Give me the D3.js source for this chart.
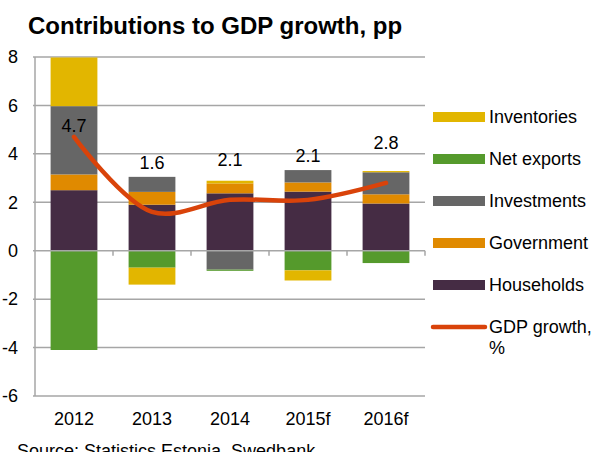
<!DOCTYPE html>
<html>
<head>
<meta charset="utf-8">
<script src="https://cdn.jsdelivr.net/npm/d3@7"></script>
<style>
  body { margin: 0; background: #fff; }
  text { font-family: "Liberation Sans", Arial, sans-serif; fill: #000; }
</style>
</head>
<body>
<svg id="chart" width="598" height="452"></svg>
<script>
// categories and series (pp contributions)
var years = ["2012", "2013", "2014", "2015f", "2016f"];
var households  = [2.50, 1.90, 2.37, 2.44, 1.95];
var government  = [0.65, 0.53, 0.41, 0.38, 0.38];
var investments = [2.82, 0.62, -0.78, 0.51, 0.91];
var netExports  = [-4.10, -0.70, -0.05, -0.81, -0.51];
var inventories = [2.01, -0.70, 0.11, -0.42, 0.05];
var gdpGrowth   = [4.7, 1.6, 2.1, 2.1, 2.8];
var gdpLabels   = ["4.7", "1.6", "2.1", "2.1", "2.8"];
// where the value labels sit, in axis units
var labelAt     = [5.17, 3.65, 3.76, 3.93, 4.46];
var yTicks      = [-6, -4, -2, 0, 2, 4, 6, 8];

var seriesNames  = ["Households", "Government", "Investments", "Net exports", "Inventories"];
var seriesValues = [households, government, investments, netExports, inventories];
var colors = {
  "Households": "#452C44",
  "Government": "#E08A00",
  "Investments": "#666666",
  "Net exports": "#559A2C",
  "Inventories": "#E2B600"
};
var legendOrder = ["Inventories", "Net exports", "Investments", "Government", "Households"];
var lineColor = "#D9430A";
var gridColor = "#A6A6A6";

var svg = d3.select("#chart");

var plot = {left: 35, right: 425, top: 57, bottom: 396};

var x = d3.scaleBand()
    .domain(years)
    .range([plot.left, plot.right])
    .paddingInner(0.4)
    .paddingOuter(0.2);

var y = d3.scaleLinear()
    .domain([-6, 8])
    .range([plot.bottom, plot.top]);

// build rows for the stack
var rows = years.map(function(yr, i) {
  var r = {year: yr};
  seriesNames.forEach(function(n, k) { r[n] = seriesValues[k][i]; });
  return r;
});

var stacked = d3.stack()
    .keys(seriesNames)
    .offset(d3.stackOffsetDiverging)(rows);

// title
svg.append("text")
    .attr("x", 28)
    .attr("y", 34)
    .attr("font-size", 24)
    .attr("font-weight", "bold")
    .text("Contributions to GDP growth, pp");

// gridlines
svg.append("g").selectAll("line")
  .data(yTicks.filter(function(t) { return t !== 0 && t !== -6; }))
  .enter().append("line")
    .attr("x1", plot.left - 2)
    .attr("x2", plot.right)
    .attr("y1", function(d) { return y(d); })
    .attr("y2", function(d) { return y(d); })
    .attr("stroke", gridColor)
    .attr("stroke-width", 1.5);

// bars
svg.append("g").selectAll("g")
  .data(stacked)
  .enter().append("g")
    .attr("fill", function(s) { return colors[s.key]; })
  .selectAll("rect")
  .data(function(s) { return s; })
  .enter().append("rect")
    .attr("x", function(d) { return x(d.data.year); })
    .attr("width", x.bandwidth())
    .attr("y", function(d) { return y(Math.max(d[0], d[1])); })
    .attr("height", function(d) { return Math.abs(y(d[0]) - y(d[1])); });

// axes lines
var axisG = svg.append("g").attr("stroke", gridColor).attr("stroke-width", 1.5);
axisG.append("line")
    .attr("x1", plot.left).attr("x2", plot.left)
    .attr("y1", plot.top).attr("y2", plot.bottom);
axisG.append("line")
    .attr("x1", plot.left - 2).attr("x2", plot.right)
    .attr("y1", y(-6)).attr("y2", y(-6));
axisG.append("line")
    .attr("x1", plot.left - 2).attr("x2", plot.right)
    .attr("y1", y(0)).attr("y2", y(0));
// category separators on the zero line
axisG.selectAll(".sep")
  .data(years)
  .enter().append("line")
    .attr("class", "sep")
    .attr("x1", function(d) { return x(d) + x.bandwidth() + x.step() * x.paddingInner() / 2; })
    .attr("x2", function(d) { return x(d) + x.bandwidth() + x.step() * x.paddingInner() / 2; })
    .attr("y1", y(0))
    .attr("y2", y(0) + 5);

// y tick labels
svg.append("g").selectAll("text")
  .data(yTicks)
  .enter().append("text")
    .attr("x", 18)
    .attr("y", function(d) { return y(d); })
    .attr("dy", "0.35em")
    .attr("text-anchor", "end")
    .attr("font-size", 18)
    .text(function(d) { return d; });

// x labels
svg.append("g").selectAll("text")
  .data(years)
  .enter().append("text")
    .attr("x", function(d) { return x(d) + x.bandwidth() / 2; })
    .attr("y", 425)
    .attr("text-anchor", "middle")
    .attr("font-size", 18)
    .text(function(d) { return d; });

// GDP growth line
var line = d3.line()
    .x(function(d, i) { return x(years[i]) + x.bandwidth() / 2; })
    .y(function(d) { return y(d); })
    .curve(d3.curveCatmullRom.alpha(0.5));

svg.append("path")
    .datum(gdpGrowth)
    .attr("d", line)
    .attr("fill", "none")
    .attr("stroke", lineColor)
    .attr("stroke-width", 4.5)
    .attr("stroke-linecap", "round");

// value labels
svg.append("g").selectAll("text")
  .data(gdpLabels)
  .enter().append("text")
    .attr("x", function(d, i) { return x(years[i]) + x.bandwidth() / 2; })
    .attr("y", function(d, i) { return y(labelAt[i]); })
    .attr("dy", "0.35em")
    .attr("text-anchor", "middle")
    .attr("font-size", 18)
    .text(function(d) { return d; });

// legend
var legend = svg.append("g");
var legY0 = 117, legStep = 42;
legendOrder.forEach(function(n, i) {
  var ly = legY0 + i * legStep;
  legend.append("rect")
      .attr("x", 433).attr("y", ly - 5)
      .attr("width", 52).attr("height", 10)
      .attr("fill", colors[n]);
  legend.append("text")
      .attr("x", 489).attr("y", ly)
      .attr("dy", "0.35em")
      .attr("font-size", 18)
      .text(n);
});
var gy = legY0 + 5 * legStep;
legend.append("line")
    .attr("x1", 433).attr("x2", 485)
    .attr("y1", gy).attr("y2", gy)
    .attr("stroke", lineColor)
    .attr("stroke-width", 4.5)
    .attr("stroke-linecap", "round");
legend.append("text")
    .attr("x", 489).attr("y", gy)
    .attr("dy", "0.35em")
    .attr("font-size", 18)
    .text("GDP growth,");
legend.append("text")
    .attr("x", 489).attr("y", gy + 21)
    .attr("dy", "0.35em")
    .attr("font-size", 18)
    .text("%");

// source
svg.append("text")
    .attr("x", 17)
    .attr("y", 457)
    .attr("font-size", 18)
    .text("Source: Statistics Estonia, Swedbank");
</script>
</body>
</html>
